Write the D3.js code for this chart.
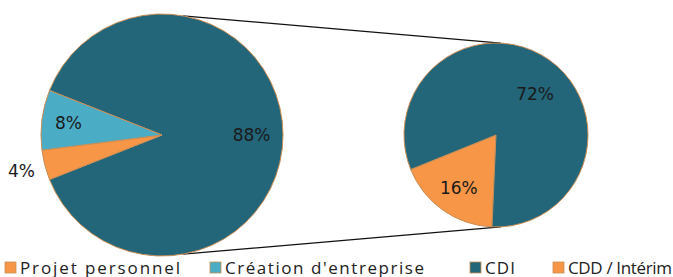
<!DOCTYPE html>
<html>
<head>
<meta charset="utf-8">
<style>
  body { margin: 0; background: #fff; }
  svg text { font-family: "DejaVu Sans", Verdana, sans-serif; fill: #1a1a1a; }
  svg .legend text { font-family: "Open Sans", sans-serif; fill: #222; }
</style>
</head>
<body>
<div id="chart"></div>
<script src="https://d3js.org/d3.v7.min.js"></script>
<script>
// main pie : the 88% slice is split in the second pie
var mainLabels = ["CDI + CDD / Intérim", "Projet personnel", "Création d'entreprise"];
var mainValues = [88, 4, 8];
var subLabels = ["CDD / Intérim", "CDI"];
var subValues = [16, 72];
var legendLabels = ["Projet personnel", "Création d'entreprise", "CDI", "CDD / Intérim"];

var colors = {
  "CDI": "#236579",
  "CDI + CDD / Intérim": "#236579",
  "Création d'entreprise": "#4bacc6",
  "Projet personnel": "#f79646",
  "CDD / Intérim": "#f79646"
};

var W = 673, H = 277;
var svg = d3.select("#chart").append("svg")
  .attr("width", W).attr("height", H);

var deg = Math.PI / 180;
var big = {cx: 162, cy: 135, r: 121};
var small = {cx: 496, cy: 135, r: 92};

// first pie : "other" slice centred on 3 o'clock
var otherAngle = mainValues[0] / d3.sum(mainValues) * 2 * Math.PI;
var pieMain = d3.pie().sort(null).value(function(d) { return d.value; })
  .startAngle(Math.PI / 2 - otherAngle / 2)
  .endAngle(Math.PI / 2 - otherAngle / 2 + 2 * Math.PI);
var pieSub = d3.pie().sort(null).value(function(d) { return d.value; })
  .startAngle(182.5 * deg).endAngle(182.5 * deg + 2 * Math.PI);

var arcBig = d3.arc().innerRadius(0).outerRadius(big.r);
var arcSmall = d3.arc().innerRadius(0).outerRadius(small.r);

// connector lines
function pt(c, a) { return [c.cx + c.r * Math.sin(a), c.cy - c.r * Math.cos(a)]; }
[[10, 3], [170, 177]].forEach(function(p) {
  var a = pt(big, p[0] * deg), b = pt(small, p[1] * deg);
  svg.append("line")
    .attr("x1", a[0]).attr("y1", a[1]).attr("x2", b[0]).attr("y2", b[1])
    .attr("stroke", "#111").attr("stroke-width", 1.2);
});

var mainData = pieMain(mainValues.map(function(v, i) { return {label: mainLabels[i], value: v}; }));
var subData = pieSub(subValues.map(function(v, i) { return {label: subLabels[i], value: v}; }));

var gBig = svg.append("g").attr("transform", "translate(" + big.cx + "," + big.cy + ")");
gBig.selectAll("path").data(mainData).enter().append("path")
  .attr("d", arcBig)
  .attr("fill", function(d) { return colors[d.data.label]; })
  .attr("stroke", "#c98e55").attr("stroke-width", 1);

var gSmall = svg.append("g").attr("transform", "translate(" + small.cx + "," + small.cy + ")");
gSmall.selectAll("path").data(subData).enter().append("path")
  .attr("d", arcSmall)
  .attr("fill", function(d) { return colors[d.data.label]; })
  .attr("stroke", "#c98e55").attr("stroke-width", 1);

// labels
var bigFactor = [0.74, 1.2, 0.78];
gBig.selectAll("text").data(mainData).enter().append("text")
  .attr("transform", function(d, i) {
    var a = (d.startAngle + d.endAngle) / 2, r = big.r * bigFactor[i];
    return "translate(" + (r * Math.sin(a)) + "," + (-r * Math.cos(a)) + ")";
  })
  .attr("text-anchor", "middle").attr("dy", "0.36em")
  .style("font-size", "17px")
  .text(function(d) { return d.data.value + "%"; });

var smallFactor = [0.7, 0.62];
gSmall.selectAll("text").data(subData).enter().append("text")
  .attr("transform", function(d, i) {
    var a = (d.startAngle + d.endAngle) / 2 + (i === 1 ? 8 * deg : 0), r = small.r * smallFactor[i];
    return "translate(" + (r * Math.sin(a)) + "," + (-r * Math.cos(a)) + ")";
  })
  .attr("text-anchor", "middle").attr("dy", "0.36em")
  .style("font-size", "17px")
  .text(function(d) { return d.data.value + "%"; });

// legend
var legendX = [5, 210, 470, 553];
var legendW = [160, 199, 30, 104];
var leg = svg.append("g").attr("class", "legend").selectAll("g").data(legendLabels).enter().append("g")
  .attr("transform", function(d, i) { return "translate(" + legendX[i] + ",262)"; });
leg.append("rect").attr("width", 11).attr("height", 11)
  .attr("fill", function(d) { return colors[d]; })
  .attr("stroke", "#c98e55").attr("stroke-width", 0.8);
leg.append("text").attr("x", 15).attr("y", 11.5)
  .style("font-size", "17px")
  .attr("textLength", function(d, i) { return legendW[i]; })
  .attr("lengthAdjust", "spacing")
  .text(function(d) { return d; });
</script>
</body>
</html>
